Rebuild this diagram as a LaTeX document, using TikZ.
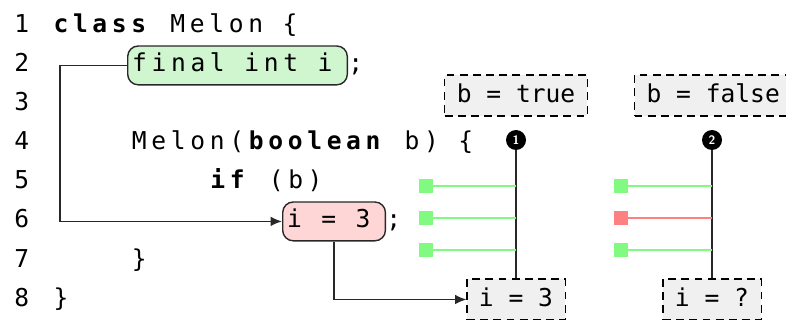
\documentclass[tikz,border=0pt]{standalone}
\usepackage{fontspec}
\usepackage{tikz}
\usetikzlibrary{arrows.meta, positioning, calc}
\newfontfamily\codefont{DejaVu Sans Mono}[LetterSpace=19]
\newfontfamily\valfont{DejaVu Sans Mono}
\definecolor{mydark}{RGB}{40,40,40}
\definecolor{mygray}{RGB}{240,240,240}
\definecolor{hlgreen}{RGB}{208,246,208}
\definecolor{hlred}{RGB}{255,214,214}
\definecolor{okgreen}{RGB}{128,250,128}
\definecolor{badred}{RGB}{255,128,128}
\tikzset{
  code/.style={font=\codefont\fontsize{14}{17}\selectfont, inner sep=0pt,
    anchor=base west},
  hlbox/.style={code, draw=mydark, rounded corners=6pt, line width=0.8pt,
    inner xsep=2.5pt, inner ysep=3.3pt, text height=11.5pt, text depth=4pt},
  valbox/.style={draw=black, dashed, dash pattern=on 4.5pt off 3pt, fill=mygray,
    font=\valfont\fontsize{14}{17}\selectfont, inner xsep=0.24cm,
    text height=11pt, text depth=3pt, minimum height=0.82cm, line width=0.6pt},
  badge/.style={circle, fill=black, text=white, inner sep=0pt,
    minimum size=0.4cm, font=\sffamily\scriptsize\bfseries},
  flag/.style={rectangle, minimum size=0.28cm, inner sep=0pt},
  arrow/.style={-{Latex[length=6.5pt,width=5.5pt]}, thick, color=mydark},
  line/.style={thick, color=mydark}
}

\begin{document}
\begin{tikzpicture}[x=0.02cm, y=-0.02cm]
  \useasboundingbox (0,0) rectangle (786,320);
  \clip (0,0) rectangle (786,320);

  % Line numbers
  \foreach \k in {1,...,8}
    \node[code] (n\k) at (14, {33+39*(\k-1)}) {\k};

  % Source code
  \node[code] (l1) at (53.2, 33) {\textbf{class} Melon \{};
  \node[hlbox, fill=hlgreen] (fld) at (127, 72) {final int i\kern6pt};
  \node[code] at (fld.base east) {;};
  \node[code] (l4) at (131.6, 150) {Melon(\textbf{boolean} b) \{};
  \node[code] (l5) at (210, 189) {\textbf{if} (b)};
  \node[hlbox, fill=hlred] (asg) at (282, 228) {i = 3\kern6pt};
  \node[code] at (asg.base east) {;};
  \node[code] (l7) at (131.6, 267) {\}};
  \node[code] (l8) at (53.2, 306) {\}};

  % Paths for b = true and b = false
  \node[valbox] (cnd1) at (516, 95.5) {b = true};
  \node[valbox, anchor=west] (cnd2) at (634, 95.5) {b = false};
  \node[badge] (p1) at (516, 140) {1};
  \node[badge] (p2) at (712, 140) {2};
  \node[valbox] (res1) at (516, 299.5) {i = 3};
  \node[valbox] (res2) at (712, 299.5) {i = ?};
  \draw[line] (p1) -- (res1);
  \draw[line] (p2) -- (res2);

  % Checks along each path
  \foreach \y/\c in {186/okgreen, 218/okgreen, 250/okgreen} {
    \node[flag, fill=\c] (a\y) at (425.5, \y) {};
    \draw[\c, thick] (a\y.east) -- (a\y -| p1);
  }
  \foreach \y/\c in {186/okgreen, 218/badred, 250/okgreen} {
    \node[flag, fill=\c] (b\y) at (621, \y) {};
    \draw[\c, thick] (b\y.east) -- (b\y -| p2);
  }

  % Def-use arrows
  \draw[arrow] (fld.west) -- ++(-67,0) |- (asg.west);
  \draw[arrow] (asg.south) |- (res1.west);
\end{tikzpicture}
\end{document}
